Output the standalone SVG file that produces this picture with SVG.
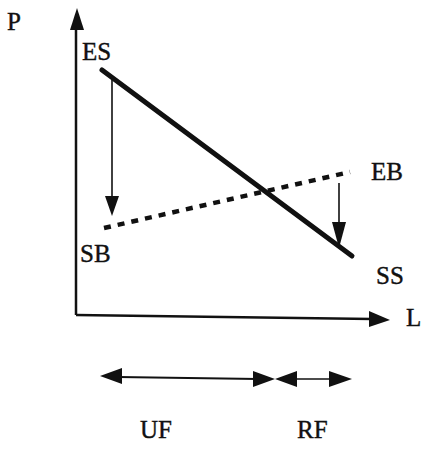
<svg xmlns="http://www.w3.org/2000/svg" width="434" height="452" viewBox="0 0 434 452">
<style>
text{font-family:"Liberation Serif","Times New Roman",serif;font-size:25px;fill:#111;stroke:#111;stroke-width:0.4}
.ax{stroke:#111;stroke-width:2.5;fill:none}
.arr{stroke:#111;stroke-width:1.6;fill:none}
.head{fill:#111}
</style>
<rect width="434" height="452" fill="#fff"/>
<g id="axes">
<line class="ax" x1="76" y1="26" x2="76" y2="315"/>
<polygon class="head" points="77,8 70,30 84,30"/>
<line class="ax" x1="76" y1="315" x2="372" y2="319"/>
<polygon class="head" points="390,320 369,311 369,327"/>
<text x="7" y="30">P</text>
<text x="406" y="326">L</text>
</g>
<g id="ES-SS">
<line x1="102" y1="70" x2="352" y2="256" stroke="#111" stroke-width="5" stroke-linecap="round"/>
<text x="82" y="60">ES</text>
<text x="376" y="284">SS</text>
</g>
<g id="SB-EB">
<line x1="104" y1="228" x2="350" y2="172" stroke="#111" stroke-width="4.5" stroke-dasharray="7 7"/>
<text x="80" y="262">SB</text>
<text x="371" y="180">EB</text>
</g>
<g id="connectors">
<line class="arr" x1="112" y1="80" x2="112" y2="200"/>
<polygon class="head" points="112,216 105,196 119,196"/>
<line class="arr" x1="339" y1="183" x2="339" y2="230"/>
<polygon class="head" points="339,248 332,222 346,222"/>
</g>
<g id="ranges">
<line x1="118" y1="377" x2="258" y2="379" stroke="#111" stroke-width="2.2"/>
<polygon class="head" points="100,376 122,368 122,384"/>
<polygon class="head" points="275,379 253,371 253,387"/>
<line x1="293" y1="379" x2="332" y2="379" stroke="#111" stroke-width="1.5"/>
<polygon class="head" points="275,379 297,371 297,387"/>
<polygon class="head" points="352,379 329,371 329,387"/>
<text x="140" y="438">UF</text>
<text x="297" y="438">RF</text>
</g>
</svg>
